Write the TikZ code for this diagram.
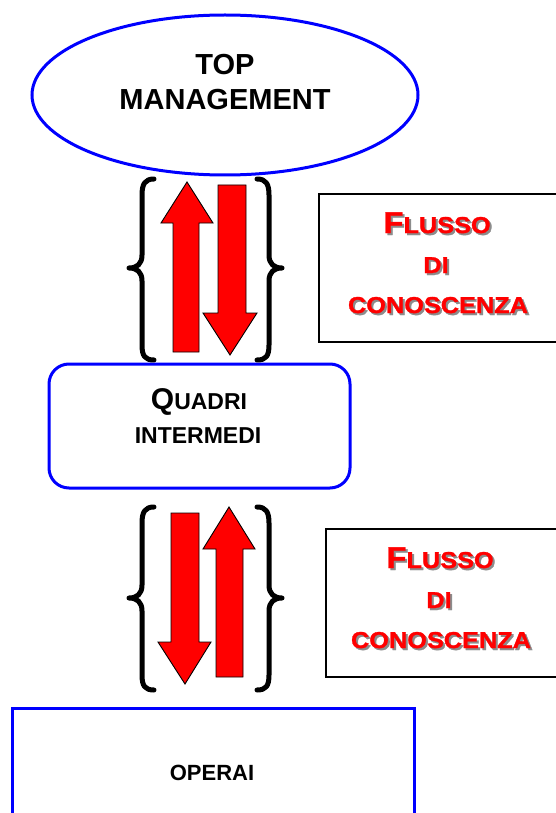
\documentclass[tikz,border=0pt]{standalone}
\usepackage{fontspec}
\setmainfont{Liberation Sans}
\newfontfamily\widefont[FakeStretch=1.1,FakeBold=1.3]{Liberation Sans}
\usetikzlibrary{shapes.geometric}
\newcommand{\qbigsz}[1]{{\fontsize{30}{30}\selectfont #1}}
\newcommand{\qsmsz}[1]{{\fontsize{23}{23}\selectfont #1}}
\newcommand{\flbig}[1]{{\fontsize{30}{30}\selectfont #1}}
\newcommand{\flsm}[1]{{\fontsize{23}{23}\selectfont #1}}
\newcommand{\shadowed}[1]{\makebox[0pt][l]{\kern2pt\raisebox{-2pt}{\color{black!45}#1}}\color{red}#1}
\tikzset{
  bluebox/.style={draw=blue, line width=3pt},
  lbl/.style={font=\bfseries, anchor=base, inner sep=0pt, text=black},
  flx/.style={font=\widefont\bfseries, anchor=base, inner sep=0pt},
  redarrow/.style={fill=red, draw=black, line width=0.9pt, line join=miter},
  brace/.style={draw=black, line width=5pt, line cap=round, line join=round},
  framebox/.style={draw=black, line width=1.6pt}
}
\begin{document}
\begin{tikzpicture}[x=1pt,y=-1pt]
\useasboundingbox (0,0) rectangle (556,813);
\clip (0,0) rectangle (556,813);
\fill[white] (0,0) rectangle (556,813);

% Top management ellipse
\node[ellipse, bluebox, minimum width=386pt, minimum height=160pt, inner sep=0pt] (top) at (225,95) {};
\node[lbl, font=\bfseries\fontsize{29}{29}\selectfont] (toptxt) at (225,75) {TOP};
\node[lbl, font=\bfseries\fontsize{29}{29}\selectfont] (mgmt) at (225,110) {MANAGEMENT};

% Quadri intermedi
\node[bluebox, rounded corners=20pt, minimum width=301pt, minimum height=124pt, inner sep=0pt] (quadri) at (199.5,426) {};
\node[lbl] (qtxt) at (199,409) {\qbigsz{Q}\qsmsz{UADRI}};
\node[lbl] (itxt) at (198,443) {\qsmsz{INTERMEDI}};

% Operai
\node[bluebox, minimum width=402pt, minimum height=160pt, inner sep=0pt, anchor=north west] (operai) at (11,707) {};
\node[lbl, font=\bfseries\fontsize{22}{22}\selectfont] (otxt) at (212,780) {OPERAI};

% Flusso box 1
\node[framebox, minimum width=260pt, minimum height=148pt, inner sep=0pt, anchor=north west] (fbox1) at (318,193) {};
\node[flx] (f1) at (437,233) {\shadowed{\flbig{F}\flsm{LUSSO}}};
\node[flx] (d1) at (436,273) {\shadowed{\flsm{DI}}};
\node[flx] (c1) at (438,313) {\shadowed{\flsm{CONOSCENZA}}};

% Flusso box 2
\node[framebox, minimum width=260pt, minimum height=148pt, inner sep=0pt, anchor=north west] (fbox2) at (325,528) {};
\node[flx] (f2) at (440,568) {\shadowed{\flbig{F}\flsm{LUSSO}}};
\node[flx] (d2) at (439,608) {\shadowed{\flsm{DI}}};
\node[flx] (c2) at (441,648) {\shadowed{\flsm{CONOSCENZA}}};

% Arrows pair 1
\draw[redarrow] (173,352) -- (173,223) -- (161,223) -- (187,182) -- (213,223) -- (199,223) -- (199,352) -- cycle;
\draw[redarrow] (218,185) -- (246,185) -- (246,313) -- (257,313) -- (230,355) -- (203,313) -- (218,313) -- cycle;

% Arrows pair 2
\draw[redarrow] (171,513) -- (199,513) -- (199,642) -- (211,642) -- (185,684) -- (158,642) -- (171,642) -- cycle;
\draw[redarrow] (216,677) -- (216,549) -- (203,549) -- (229,507) -- (255,549) -- (243,549) -- (243,677) -- cycle;

% Braces pair 1
\draw[brace] (154,179) .. controls (145,179) and (142,184) .. (142,195) -- (142,255) .. controls (142,264) and (137,268) .. (129,268) .. controls (137,268) and (142,272) .. (142,281) -- (142,345) .. controls (142,356) and (145,360) .. (154,360);
\draw[brace] (257,179) .. controls (266,179) and (269,184) .. (269,195) -- (269,255) .. controls (269,264) and (274,268) .. (282,268) .. controls (274,268) and (269,272) .. (269,281) -- (269,345) .. controls (269,356) and (266,360) .. (257,360);

% Braces pair 2
\draw[brace] (154,507) .. controls (145,507) and (142,512) .. (142,523) -- (142,585) .. controls (142,594) and (137,598) .. (129,598) .. controls (137,598) and (142,602) .. (142,611) -- (142,675) .. controls (142,686) and (145,690) .. (154,690);
\draw[brace] (257,507) .. controls (266,507) and (269,512) .. (269,523) -- (269,585) .. controls (269,594) and (274,598) .. (282,598) .. controls (274,598) and (269,602) .. (269,611) -- (269,675) .. controls (269,686) and (266,690) .. (257,690);
\end{tikzpicture}
\end{document}
